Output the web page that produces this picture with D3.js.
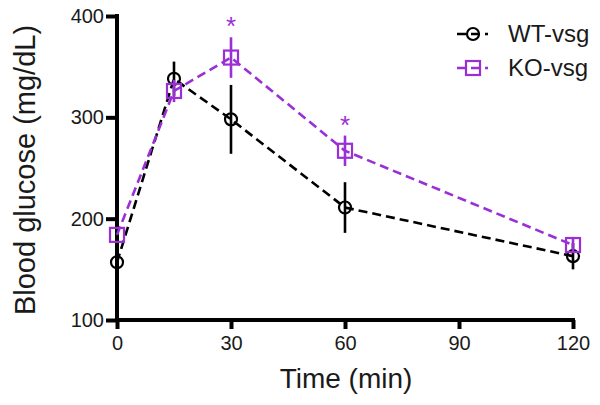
<!DOCTYPE html>
<html>
<head>
<meta charset="utf-8">
<script src="https://cdn.jsdelivr.net/npm/d3@7"></script>
<style>
  body { margin: 0; background: #fff; }
  svg text { font-family: "Liberation Sans", Arial, sans-serif; }
</style>
</head>
<body>
<svg id="chart" width="600" height="405"></svg>
<script>
const times = [0, 15, 30, 60, 120];
const wtMean = [157, 338, 298, 211, 163];
const wtErr = [0, 17, 34, 25, 13];
const koMean = [184, 326, 359, 267, 174];
const koErr = [0, 11, 20, 15, 8];
const starTimes = [30, 60];
const xTicks = [0, 30, 60, 90, 120];
const yTicks = [100, 200, 300, 400];

const purple = "#9b2fd6";

const svg = d3.select("#chart");

const x = d3.scaleLinear().domain([0, 120]).range([117, 573]);
const y = d3.scaleLinear().domain([100, 400]).range([320, 16]);

// axes
const xAxis = svg.append("g").attr("transform", "translate(0,320)")
    .call(d3.axisBottom(x).tickValues(xTicks).tickSize(9).tickPadding(7).tickSizeOuter(0));
const yAxis = svg.append("g").attr("transform", "translate(117,0)")
    .call(d3.axisLeft(y).tickValues(yTicks).tickSize(11).tickPadding(2).tickSizeOuter(0));

[xAxis, yAxis].forEach(a => {
    a.select(".domain").attr("stroke", "#000").attr("stroke-width", 4);
    a.selectAll(".tick line").attr("stroke", "#000").attr("stroke-width", 4);
    a.selectAll(".tick text").attr("fill", "#1a1a1a").style("font-size", "20px");
});
xAxis.select(".domain").attr("d", "M115,0H575");
yAxis.select(".domain").attr("d", "M0,14V322");

svg.append("text").attr("x", 346).attr("y", 388).attr("text-anchor", "middle")
    .style("font-size", "28px").attr("fill", "#1a1a1a").text("Time (min)");
svg.append("text").attr("transform", "translate(35,170) rotate(-90)").attr("text-anchor", "middle")
    .style("font-size", "29px").attr("fill", "#1a1a1a").text("Blood glucose (mg/dL)");

const series = [
    {name: "WT-vsg", mean: wtMean, err: wtErr, color: "#000", shape: "circle"},
    {name: "KO-vsg", mean: koMean, err: koErr, color: purple, shape: "square"}
];

const line = d3.line().x(d => x(d.t)).y(d => y(d.v));

function drawMarker(g, shape, color) {
    if (shape === "circle") {
        g.append("circle").attr("r", 6).attr("fill", "none")
            .attr("stroke", color).attr("stroke-width", 2.2);
    } else {
        g.append("rect").attr("x", -7).attr("y", -7).attr("width", 14).attr("height", 14)
            .attr("fill", "none").attr("stroke", color).attr("stroke-width", 2.2);
    }
}

series.forEach(s => {
    const pts = times.map((t, i) => ({t: t, v: s.mean[i], e: s.err[i]}));
    const g = svg.append("g");
    g.append("path").datum(pts).attr("d", line).attr("fill", "none")
        .attr("stroke", s.color).attr("stroke-width", 2.6).attr("stroke-dasharray", "9,5");
    g.selectAll("line.err").data(pts.filter(d => d.e > 0)).join("line").attr("class", "err")
        .attr("x1", d => x(d.t)).attr("x2", d => x(d.t))
        .attr("y1", d => y(d.v - d.e)).attr("y2", d => y(d.v + d.e))
        .attr("stroke", s.color).attr("stroke-width", 2.6);
    g.selectAll("g.pt").data(pts).join("g").attr("class", "pt")
        .attr("transform", d => `translate(${x(d.t)},${y(d.v)})`)
        .each(function () { drawMarker(d3.select(this), s.shape, s.color); });
});

// significance stars
svg.selectAll("text.star").data(starTimes).join("text").attr("class", "star")
    .attr("x", d => x(d)).attr("y", d => y(koMean[times.indexOf(d)] + koErr[times.indexOf(d)]) - 2)
    .attr("text-anchor", "middle").attr("fill", purple).style("font-size", "26px").text("*");

// legend
const legend = svg.append("g").attr("transform", "translate(457,34)");
series.forEach((s, i) => {
    const lg = legend.append("g").attr("transform", `translate(0,${i * 34})`);
    lg.append("line").attr("x1", 0).attr("x2", 31).attr("stroke", s.color)
        .attr("stroke-width", 2.6).attr("stroke-dasharray", "9,5");
    const m = lg.append("g").attr("transform", "translate(16,0)");
    drawMarker(m, s.shape, s.color);
    lg.append("text").attr("x", 51).attr("dy", "0.35em").style("font-size", "24px")
        .attr("fill", "#1a1a1a").text(s.name);
});
</script>
</body>
</html>
